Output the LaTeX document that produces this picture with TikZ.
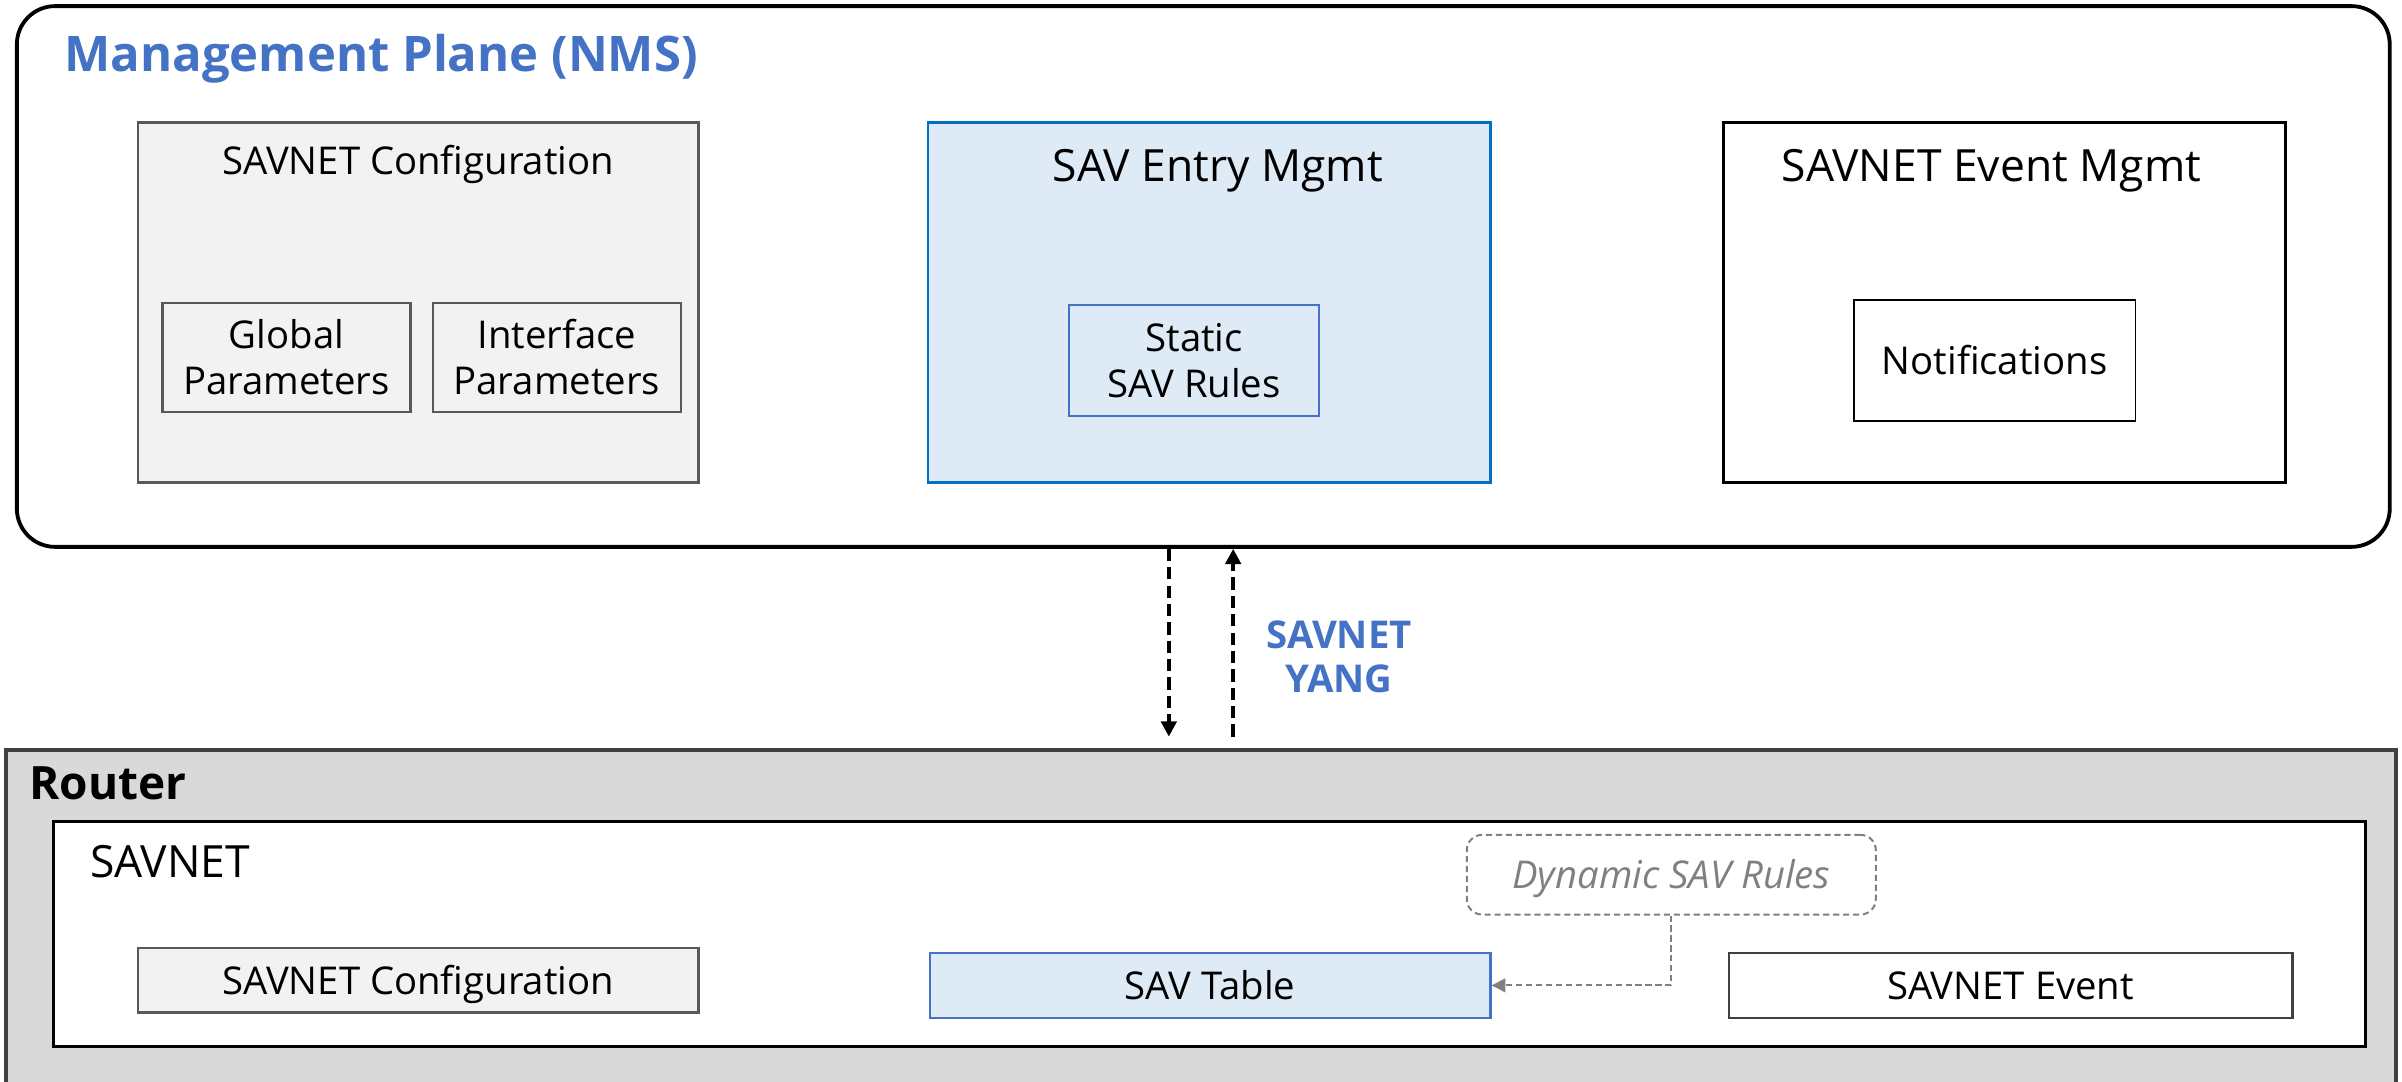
\documentclass[tikz,border=0pt]{standalone}
\usepackage{fontspec}
\setmainfont{Open Sans}
\usepackage{tikz}
\usetikzlibrary{arrows.meta}
\definecolor{nmsblue}{HTML}{4472C4}
\definecolor{entryfill}{HTML}{DEEBF7}
\definecolor{entryline}{HTML}{0070C0}
\definecolor{cfgfill}{HTML}{F2F2F2}
\definecolor{cfgline}{HTML}{595959}
\definecolor{routerfill}{HTML}{D9D9D9}
\definecolor{routerline}{HTML}{404040}
\definecolor{dyngray}{HTML}{808080}
\newcommand{\txtsize}[2]{\fontsize{#1}{#2}\selectfont}

\begin{document}
\begin{tikzpicture}[x=1pt, y=1pt,
    box/.style={draw, rectangle, inner sep=0pt, line width=1.5pt, font=\txtsize{25}{30}, align=center},
    oneline/.style={text height=18pt, text depth=0pt},
    cfgbox/.style={box, draw=cfgline, fill=cfgfill},
    bluebox/.style={box, draw=nmsblue, fill=entryfill},
    heading/.style={anchor=base, inner sep=0pt, font=\txtsize{29}{34}},
    yangarrow/.style={line width=2.6pt, dash pattern=on 8pt off 4pt, -{Triangle[length=10pt, width=10pt]}},
    dynarrow/.style={draw=dyngray, line width=1.3pt, dash pattern=on 4pt off 2.5pt, -{Triangle[length=9pt, width=9pt]}}
    ]
    \useasboundingbox (0,0) rectangle (1568,706);

    % Router
    \node[draw=routerline, fill=routerfill, line width=2.2pt, inner sep=0pt,
          minimum width=1560, minimum height=240] (router) at (784,96.4) {};
    \node[anchor=base west, inner sep=0pt, font=\bfseries\txtsize{30}{36}] (routertitle) at (19,184) {Router};

    % SAVNET on the router
    \node[draw, fill=white, line width=2pt, inner sep=0pt,
          minimum width=1509, minimum height=147] (savnet) at (789.5,96.5) {};
    \node[anchor=base west, inner sep=0pt, font=\txtsize{29}{34}] (savnettitle) at (58.7,133.5) {SAVNET};
    \node[cfgbox, oneline, minimum width=366, minimum height=42] (cfgrt) at (273,66) {SAVNET Configuration};
    \node[bluebox, oneline, minimum width=366, minimum height=42.5] (savtable) at (790,62.75) {SAV Table};
    \node[box, oneline, draw=routerline, fill=white, minimum width=368, minimum height=42.7] (savevent) at (1312.5,62.7) {SAVNET Event};
    \node[draw=dyngray, line width=1.3pt, dash pattern=on 4pt off 2.5pt, rounded corners=10pt, inner sep=0pt,
          minimum width=267, minimum height=52, oneline, text=dyngray, font=\itshape\txtsize{25}{30}] (dyn) at (1091,135) {Dynamic SAV Rules};
    \draw[dynarrow] (dyn.south) |- (savtable.east);

    % Management plane
    \node[draw, fill=white, rounded corners=25pt, line width=2.5pt, inner sep=0pt,
          minimum width=1549, minimum height=353] (nms) at (785.5,525.5) {};
    \node[anchor=base west, inner sep=0pt, text=nmsblue, font=\bfseries\txtsize{32}{38}] (nmstitle) at (42,659) {Management Plane (NMS)};

    % SAVNET configuration
    \node[cfgbox, minimum width=366, minimum height=235] (cfg) at (273,508.5) {};
    \node[heading, font=\txtsize{25}{30}] (cfgtitle) at (273,591.8) {SAVNET Configuration};
    \node[cfgbox, minimum width=162, minimum height=71.4] (glob) at (187,472.7) {Global\\Parameters};
    \node[cfgbox, minimum width=162, minimum height=71.4] (intf) at (363.5,472.7) {Interface\\Parameters};

    % SAV entries
    \node[bluebox, draw=entryline, minimum width=367, minimum height=235] (entry) at (789.5,508.5) {};
    \node[heading] (entrytitle) at (795,587.7) {SAV Entry Mgmt};
    \node[bluebox, minimum width=163, minimum height=72.5] (static) at (779.5,470.75) {Static\\SAV Rules};

    % Events
    \node[box, draw=black, line width=2pt, minimum width=367, minimum height=235] (event) at (1308.5,508.5) {};
    \node[heading] (eventtitle) at (1300,587.2) {SAVNET Event Mgmt};
    \node[box, oneline, draw=black, line width=1.2pt, minimum width=184, minimum height=79] (notif) at (1302,470.5) {Notifications};

    % YANG exchange
    \coordinate (dn) at (763,0);
    \coordinate (up) at (805,0);
    \draw[yangarrow, shorten >=7.6pt] (nms.south -| dn) -- (router.north -| dn);
    \draw[yangarrow, shorten <=7.6pt] (router.north -| up) -- (nms.south -| up);
    \node[inner sep=0pt, align=center, text=nmsblue, font=\bfseries\txtsize{25}{29}] (yang) at (874,277.4) {SAVNET\\YANG};
\end{tikzpicture}
\end{document}
